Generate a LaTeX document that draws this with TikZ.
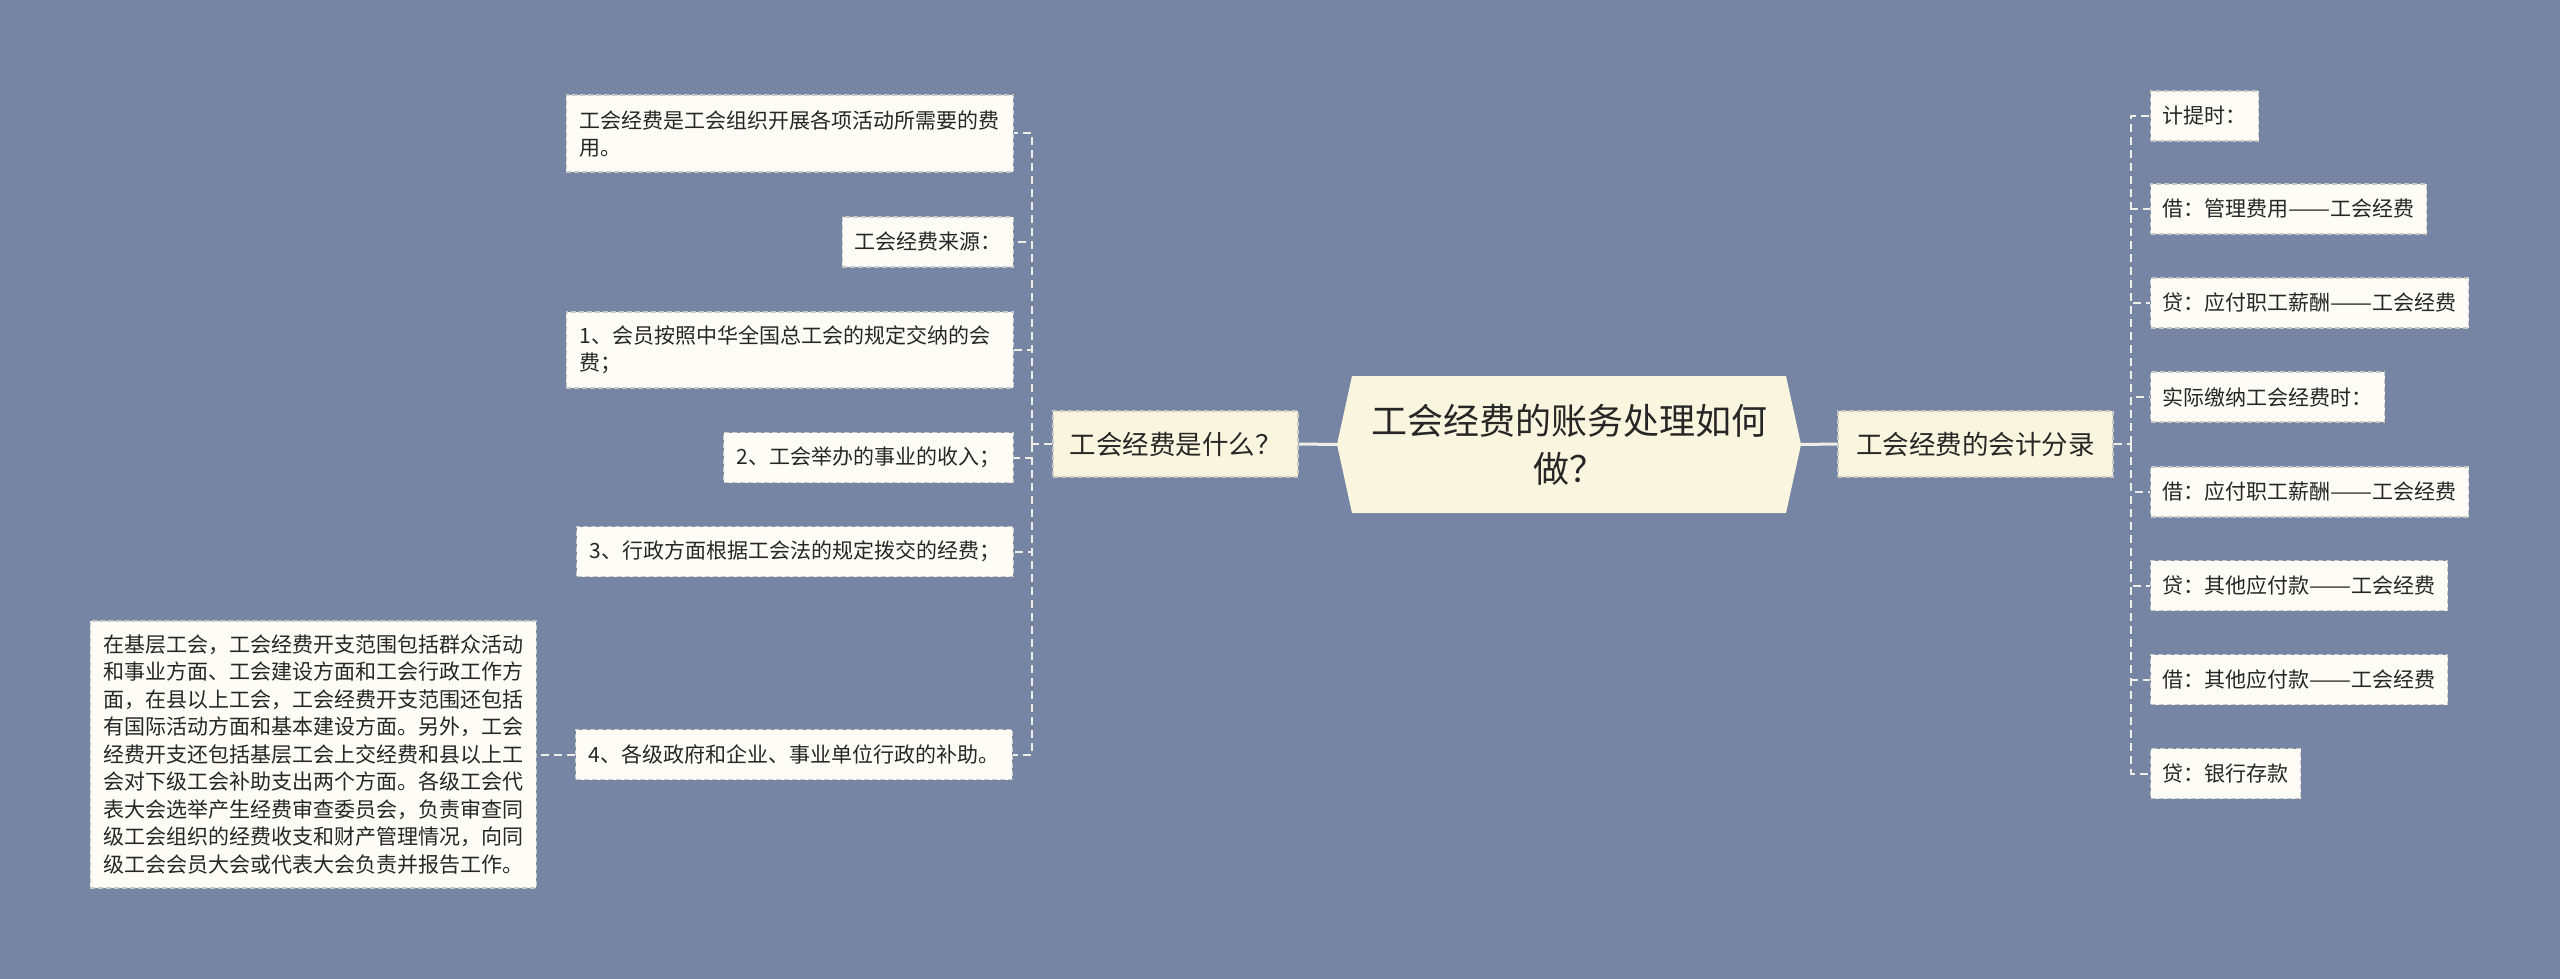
\documentclass[tikz,border=0pt]{standalone}
\usepackage{fontspec}
\usepackage{graphicx}
\setmainfont{Noto Sans CJK SC}
\usetikzlibrary{calc}
\definecolor{bgc}{RGB}{119,133,164}
\definecolor{leaffill}{RGB}{253,252,246}
\definecolor{midfill}{RGB}{250,245,222}
\definecolor{bordc}{RGB}{200,200,196}
\definecolor{connc}{RGB}{238,238,230}
\definecolor{txt}{RGB}{38,38,38}
\newcommand{\dd}{\resizebox{2em}{\height}{——}}
\begin{document}
\begin{tikzpicture}[x=1pt,y=-1pt,
  leaf/.style={draw=bordc, line width=1.2pt, dash pattern=on 5pt off 3pt, fill=leaffill,
    inner xsep=13pt, inner ysep=0pt, minimum height=50pt, text=txt,
    font=\fontsize{21}{27}\selectfont},
  midnode/.style={draw=bordc, line width=1.2pt, dash pattern=on 5pt off 3pt, fill=midfill,
    inner xsep=0pt, inner ysep=0pt, minimum height=66pt, text=txt,
    font=\fontsize{26.5}{32}\selectfont},
  conn/.style={draw=connc, line width=2pt, dash pattern=on 8pt off 5pt},
  mainconn/.style={draw=connc, line width=3pt},
]
\useasboundingbox (0,0) rectangle (2560,979);
\fill[bgc] (0,0) rectangle (2560,979);

% root
\node[minimum width=464pt, minimum height=137pt, inner sep=0pt, text=txt,
  font=\fontsize{36}{48}\selectfont, align=center,
  path picture={\fill[midfill]
    ([xshift=15pt]path picture bounding box.north west) --
    ([xshift=-15pt]path picture bounding box.north east) --
    (path picture bounding box.east) --
    ([xshift=-15pt]path picture bounding box.south east) --
    ([xshift=15pt]path picture bounding box.south west) --
    (path picture bounding box.west) -- cycle;}]
  (root) at (1569,444.5) {工会经费的账务处理如何\\做？};

% middle nodes
\node[midnode, minimum width=245pt] (lmid) at (1175.5,444) {工会经费是什么？};
\node[midnode, minimum width=275pt] (rmid) at (1975.5,444) {工会经费的会计分录};

\draw[mainconn] (root.west) -- (lmid.east);
\draw[mainconn] (root.east) -- (rmid.west);

% left leaves
\node[leaf, anchor=east, text width=420pt, align=left, minimum height=77pt, inner xsep=13.5pt] (l1) at (1014,133.5)
  {工会经费是工会组织开展各项活动所需要的费\\用。};
\node[leaf, anchor=east, inner xsep=12pt] (l2) at (1014,242) {工会经费来源：};
\node[leaf, anchor=east, text width=420pt, align=left, minimum height=76pt, inner xsep=13.5pt] (l3) at (1014,350)
  {1、会员按照中华全国总工会的规定交纳的会\\费；};
\node[leaf, anchor=east] (l4) at (1014,457.5) {2、工会举办的事业的收入；};
\node[leaf, anchor=east] (l5) at (1014,551.5) {3、行政方面根据工会法的规定拨交的经费；};
\node[leaf, anchor=east] (l6) at (1013,754.5) {4、各级政府和企业、事业单位行政的补助。};
\node[leaf, anchor=east, text width=420pt, align=left, minimum height=267pt, inner xsep=13pt,
  font=\fontsize{21}{27.5}\selectfont] (big) at (537,754.5)
  {在基层工会，工会经费开支范围包括群众活动\\和事业方面、工会建设方面和工会行政工作方\\面，在县以上工会，工会经费开支范围还包括\\有国际活动方面和基本建设方面。另外，工会\\经费开支还包括基层工会上交经费和县以上工\\会对下级工会补助支出两个方面。各级工会代\\表大会选举产生经费审查委员会，负责审查同\\级工会组织的经费收支和财产管理情况，向同\\级工会会员大会或代表大会负责并报告工作。};

\coordinate (lspine) at (1032,444);
\draw[conn] (lmid.west) -- (lspine);
\foreach \n in {l1,l2,l3,l4,l5,l6} \draw[conn] (lspine) |- (\n.east);
\draw[conn] (l6.west) -- (big.east);

% right leaves
\node[leaf, anchor=west, inner xsep=12pt] (r1) at (2150,116) {计提时：};
\node[leaf, anchor=west, inner xsep=12pt] (r2) at (2150,209) {借：管理费用\dd 工会经费};
\node[leaf, anchor=west, inner xsep=12pt] (r3) at (2150,303) {贷：应付职工薪酬\dd 工会经费};
\node[leaf, anchor=west, inner xsep=12pt] (r4) at (2150,397) {实际缴纳工会经费时：};
\node[leaf, anchor=west, inner xsep=12pt] (r5) at (2150,492) {借：应付职工薪酬\dd 工会经费};
\node[leaf, anchor=west, inner xsep=12pt] (r6) at (2150,585.5) {贷：其他应付款\dd 工会经费};
\node[leaf, anchor=west, inner xsep=12pt] (r7) at (2150,679.5) {借：其他应付款\dd 工会经费};
\node[leaf, anchor=west, inner xsep=12pt] (r8) at (2150,773.5) {贷：银行存款};

\coordinate (rspine) at (2131,444);
\draw[conn] (rmid.east) -- (rspine);
\foreach \n in {r1,r2,r3,r4,r5,r6,r7,r8} \draw[conn] (rspine) |- (\n.west);
\end{tikzpicture}
\end{document}
